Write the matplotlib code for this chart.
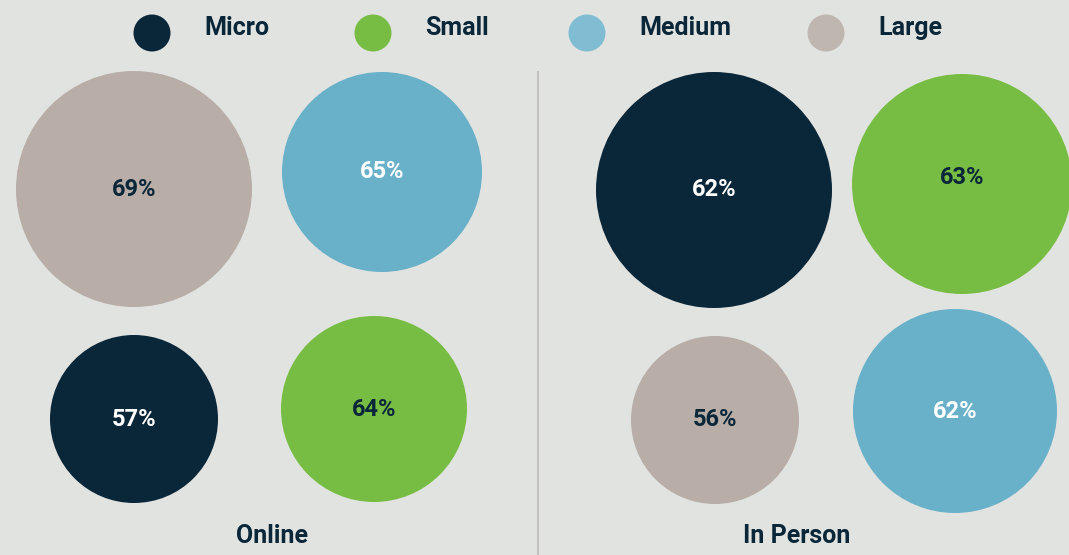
import matplotlib.pyplot as plt
from matplotlib.patches import Circle

# data
sizes = ["Micro", "Small", "Medium", "Large"]
colors = {"Micro": "#0a2639", "Small": "#78bd43", "Medium": "#69b0c9", "Large": "#b8ada7"}
legend_colors = {"Micro": "#0a2639", "Small": "#78bd43", "Medium": "#80bdd2", "Large": "#c0b6b0"}
online = {"Micro": 57, "Small": 64, "Medium": 65, "Large": 69}
in_person = {"Micro": 62, "Small": 63, "Medium": 62, "Large": 56}
panels = ["Online", "In Person"]

# layout (pixels): centre x, centre y, radius per panel/size
layout = {
    "Online": {"Large": (134, 189, 118), "Medium": (382, 172, 100),
               "Micro": (134, 419, 84), "Small": (374, 409, 93)},
    "In Person": {"Micro": (714, 190, 118), "Small": (962, 184, 110),
                  "Large": (715, 420, 84), "Medium": (955, 411, 102)},
}
text_col = {"Micro": "white", "Medium": "white", "Large": "#0a2639", "Small": "#0a2639"}
DARK = "#0a2639"
FONT = "Roboto"

fig = plt.figure(figsize=(10.69, 5.55), dpi=100, facecolor="#e1e3e0")
ax = fig.add_axes([0, 0, 1, 1])
ax.set_xlim(0, 1069)
ax.set_ylim(555, 0)
ax.set_aspect("equal")
ax.axis("off")

for name, vals in zip(panels, [online, in_person]):
    for s in sizes:
        x, y, r = layout[name][s]
        ax.add_patch(Circle((x, y), r, color=colors[s], lw=0))
        ty = y - 6 if (name == "In Person" and s == "Small") else y
        ax.text(x, ty, f"{vals[s]}%", ha="center", va="center", color=text_col[s],
                fontsize=17, fontweight="bold", family=FONT)

# divider
ax.plot([538, 538], [72, 555], color="#c4c2bf", lw=1.5)

# panel titles
ax.text(272, 536, "Online", ha="center", va="center", color=DARK, fontsize=18,
        fontweight="bold", family=FONT)
ax.text(797, 536, "In Person", ha="center", va="center", color=DARK, fontsize=18,
        fontweight="bold", family=FONT)

# legend
leg_x = [152, 373, 587, 826]
for s, lx in zip(sizes, leg_x):
    ax.add_patch(Circle((lx, 33), 18.5, color=legend_colors[s], lw=0))
    ax.text(lx + 52, 28, s, ha="left", va="center", color=DARK, fontsize=18,
            fontweight="bold", family=FONT)

fig.savefig("out.png", dpi=100, facecolor=fig.get_facecolor())
